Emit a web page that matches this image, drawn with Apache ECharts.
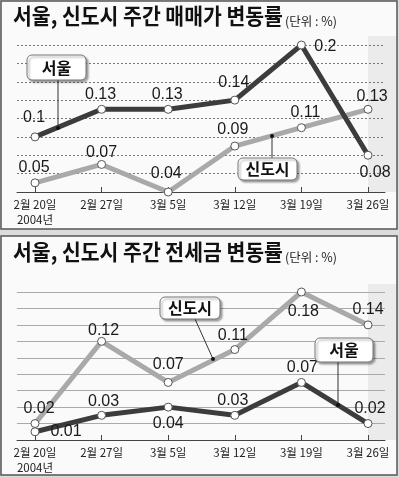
<!DOCTYPE html>
<html>
<head>
<meta charset="utf-8">
<script src="https://cdn.jsdelivr.net/npm/echarts@6/dist/echarts.min.js"></script>
<style>
  html, body { margin: 0; padding: 0; background: #fff; }
  #chart { width: 399px; height: 477px; }
</style>
</head>
<body>
<div id="chart"></div>
<script>
// 주간 날짜 (2004년)
var weeks = ['2월 20일', '2월 27일', '3월 5일', '3월 12일', '3월 19일', '3월 26일'];

// 매매가 변동률 (%)
var saleSeoul = [0.1, 0.13, 0.13, 0.14, 0.2, 0.08];
var saleNew = [0.05, 0.07, 0.04, 0.09, 0.11, 0.13];

// 전세금 변동률 (%)
var rentSeoul = [0.01, 0.03, 0.04, 0.03, 0.07, 0.02];
var rentNew = [0.02, 0.12, 0.07, 0.11, 0.18, 0.14];

// 라벨 위치 (점 중심 기준 이동량)
var saleSeoulLabelAt = [[-1, -19], [-1, -15], [-1, -15], [-1, -18], [24, 2], [7, 17]];
var saleNewLabelAt = [[-1, -15], [0, -12], [-2, -18], [-2, -16], [4, -15], [4, -13]];
var rentNewLabelAt = [[4, -15], [2, -11], [0, -18], [-2, -14], [2, 20], [0, -15]];
var rentSeoulLabelAt = [[31, 0], [2, -14], [0, 16], [-2, -15], [1, -15], [2, -15]];

var numFont = '"Liberation Sans", Arial, sans-serif';
var krFont = '"Noto Sans CJK KR", sans-serif';

function withLabels(values, offsets) {
  return values.map(function (v, i) {
    return {
      value: v,
      label: { offset: offsets[i] }
    };
  });
}

function lineSeries(name, values, offsets, color, xi, yi, z) {
  return {
    name: name,
    type: 'line',
    xAxisIndex: xi,
    yAxisIndex: yi,
    data: withLabels(values, offsets),
    z: z,
    symbol: 'circle',
    symbolSize: 8,
    showAllSymbol: true,
    lineStyle: { color: color, width: 5, cap: 'round', join: 'round' },
    itemStyle: { color: '#fff', borderColor: '#555', borderWidth: 1 },
    label: {
      show: true,
      position: 'inside',
      align: 'center',
      verticalAlign: 'middle',
      fontFamily: numFont,
      fontSize: 16,
      color: '#1a1a1a',
      formatter: function (p) { return String(p.value); }
    },
    emphasis: { disabled: true },
    animation: false
  };
}

// 바깥 격자 (가로선, 축선)
function wideX(gi) {
  return {
    type: 'value', gridIndex: gi, min: 0, max: 1,
    axisLine: { show: true, lineStyle: { color: '#444', width: 1 } },
    axisTick: { show: false }, axisLabel: { show: false }, splitLine: { show: false }
  };
}
function catX(gi) {
  return {
    type: 'category', gridIndex: gi, data: weeks, boundaryGap: false,
    axisLine: { show: false },
    axisTick: { show: true, inside: true, length: 5, lineStyle: { color: '#444' } },
    axisLabel: {
      margin: 5,
      fontFamily: krFont,
      fontSize: 11.5,
      color: '#222',
      lineHeight: 15,
      formatter: function (v, i) { return i === 0 ? v + '\n2004년' : v; }
    }
  };
}
function wideY(gi, min, max, dotted) {
  return {
    type: 'value', gridIndex: gi, min: min, max: max, interval: 0.02,
    axisLine: { show: false }, axisTick: { show: false }, axisLabel: { show: false },
    splitLine: { show: true, lineStyle: dotted ? { color: '#777', type: [2, 2], width: 1 } : { color: '#aaa', width: 1 } }
  };
}
function plainY(gi, min, max) {
  return {
    type: 'value', gridIndex: gi, min: min, max: max, interval: 0.02,
    axisLine: { show: false }, axisTick: { show: false }, axisLabel: { show: false },
    splitLine: { show: false }
  };
}

function callout(x, y, w, h, text, lx1, ly1, lx2, ly2) {
  return [
    { type: 'line', shape: { x1: lx1, y1: ly1, x2: lx2, y2: ly2 }, style: { stroke: '#333', lineWidth: 1 }, z: 100 },
    { type: 'circle', shape: { cx: lx2, cy: ly2, r: 2 }, style: { fill: '#111' }, z: 101 },
    {
      type: 'rect', shape: { x: x, y: y, width: w, height: h, r: 5 },
      style: { fill: '#fff', stroke: '#777', lineWidth: 1, shadowColor: 'rgba(0,0,0,0.35)', shadowOffsetX: 2, shadowOffsetY: 2, shadowBlur: 2 },
      z: 102
    },
    {
      type: 'text', x: x + w / 2, y: y + h / 2,
      style: { text: text, font: 'bold 16px "Noto Sans CJK KR"', fill: '#111', align: 'center', verticalAlign: 'middle' },
      z: 103
    }
  ];
}

function title(text, y) {
  return [
    {
      type: 'text', x: 13, y: y, scaleX: 0.93,
      style: { text: text, font: 'bold 22px "Noto Sans CJK KR"', fill: '#111' }
    },
    {
      type: 'text', x: 285, y: y + 10,
      style: { text: '(단위 : %)', font: '12.5px "Noto Sans CJK KR"', fill: '#222' }
    }
  ];
}

var background = [
  { type: 'rect', shape: { x: 0, y: 0, width: 399, height: 477 }, style: { fill: '#dcdcdc' }, z: -20 },
  { type: 'rect', shape: { x: 1, y: 1, width: 396, height: 228 }, style: { fill: '#fafafa', stroke: '#555', lineWidth: 1.5 }, z: -19 },
  { type: 'rect', shape: { x: 1, y: 236, width: 396, height: 239 }, style: { fill: '#fafafa', stroke: '#555', lineWidth: 1.5 }, z: -19 },
  { type: 'rect', shape: { x: 368, y: 36, width: 28, height: 156 }, style: { fill: '#ebebeb' }, z: -18 },
  { type: 'rect', shape: { x: 368, y: 284, width: 28, height: 156 }, style: { fill: '#ebebeb' }, z: -18 }
].concat(title('서울, 신도시 주간 매매가 변동률', 5))
 .concat(title('서울, 신도시 주간 전세금 변동률', 241));

var chart = echarts.init(document.getElementById('chart'), null, { renderer: 'canvas' });

var option = {
  animation: false,
  grid: [
    { left: 17, right: 14, top: 45, bottom: 285 },
    { left: 35, right: 31, top: 45, bottom: 285 },
    { left: 17, right: 14, top: 292, bottom: 37 },
    { left: 35, right: 31, top: 292, bottom: 37 }
  ],
  xAxis: [wideX(0), catX(1), wideX(2), catX(3)],
  yAxis: [
    wideY(0, 0.04, 0.2, true), plainY(1, 0.04, 0.2),
    wideY(2, 0, 0.18, false), plainY(3, 0, 0.18)
  ],
  series: [
    lineSeries('신도시', saleNew, saleNewLabelAt, '#a9a9a9', 1, 1, 2),
    lineSeries('서울', saleSeoul, saleSeoulLabelAt, '#3c3c3c', 1, 1, 3),
    lineSeries('신도시', rentNew, rentNewLabelAt, '#a9a9a9', 3, 3, 2),
    lineSeries('서울', rentSeoul, rentSeoulLabelAt, '#3c3c3c', 3, 3, 3)
  ],
  graphic: background
    .concat(callout(27, 55, 59, 25, '서울', 58, 80, 58, 128))
    .concat(callout(238, 158, 59, 22, '신도시', 272, 158, 272, 136))
    .concat(callout(160, 297, 60, 22, '신도시', 195, 319, 213, 359))
    .concat(callout(315, 338, 58, 24, '서울', 338, 362, 338, 405))
};

chart.setOption(option);
</script>
</body>
</html>
